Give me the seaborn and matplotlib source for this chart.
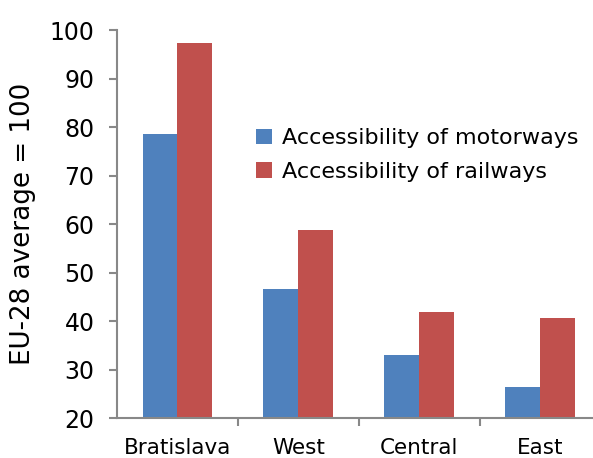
import pandas as pd
import numpy as np
import matplotlib.pyplot as plt
import seaborn as sns

regions = ['Bratislava', 'West', 'Central', 'East']
motorways = [78.7, 46.7, 33.0, 26.5]
railways = [97.4, 58.9, 41.8, 40.7]
series_names = ['Accessibility of motorways', 'Accessibility of railways']
colors = ['#4F81BD', '#C0504D']

df = pd.DataFrame({
    'region': regions * 2,
    'value': motorways + railways,
    'series': [series_names[0]] * 4 + [series_names[1]] * 4,
})

sns.set_style('white')
plt.rcParams['font.family'] = ['DejaVu Sans']
plt.rcParams['text.color'] = 'black'
plt.rcParams['xtick.color'] = 'black'
plt.rcParams['ytick.color'] = 'black'
plt.rcParams['axes.labelcolor'] = 'black'

fig = plt.figure(figsize=(5.93, 4.58), dpi=100)
ax = fig.add_axes([0.197, 0.087, 0.816, 0.847])
sns.barplot(data=df, x='region', y='value', hue='series', order=regions,
            hue_order=series_names, palette=colors, width=0.575,
            saturation=1, ax=ax, edgecolor='none')

ax.set_ylim(20, 100)
ax.set_yticks(np.arange(20, 101, 10))
ax.set_xlim(-0.5, 3.5)
ax.set_xticks(np.arange(0.5, 3.6, 1))
ax.set_xticklabels([])
ax.set_xticks(np.arange(4), minor=True)
ax.set_xticklabels(regions, minor=True)
ax.tick_params(axis='x', which='minor', bottom=False, length=0, labelsize=15.5, pad=14)
ax.tick_params(axis='x', which='major', bottom=True, direction='out', length=6,
               color='#888888', width=1.5)
ax.tick_params(axis='y', left=True, direction='out', length=6, color='#888888',
               width=1.5, labelsize=17, pad=10)
ax.set_xlabel('')
ax.set_ylabel('EU-28 average = 100', fontsize=18.8, labelpad=10)

for side in ['top', 'right']:
    ax.spines[side].set_visible(False)
for side in ['left', 'bottom']:
    ax.spines[side].set_color('#888888')
    ax.spines[side].set_linewidth(1.5)

ax.legend(loc='upper left', bbox_to_anchor=(0.27, 0.77), frameon=False,
          fontsize=16, handlelength=0.72, handleheight=0.72, handletextpad=0.45,
          labelspacing=0.6, borderaxespad=0)

fig.savefig('out.png', dpi=100)
